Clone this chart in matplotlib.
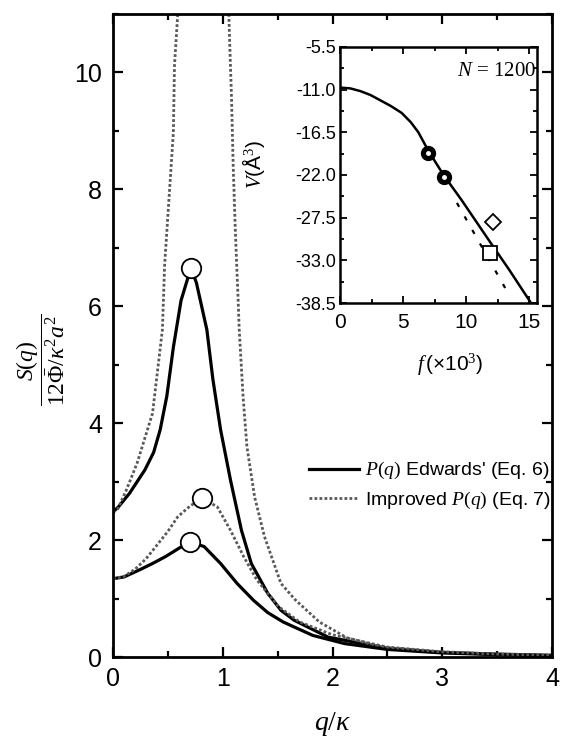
import numpy as np
import matplotlib
matplotlib.use('Agg')
import matplotlib.pyplot as plt
from matplotlib.ticker import MultipleLocator, FormatStrFormatter

plt.rcParams['font.family'] = ['Liberation Sans', 'DejaVu Sans']
plt.rcParams['mathtext.fontset'] = 'custom'
plt.rcParams['mathtext.rm'] = 'Liberation Serif'
plt.rcParams['mathtext.it'] = 'Liberation Serif:italic'
plt.rcParams['mathtext.bf'] = 'Liberation Serif:bold'

# main panel, values
q_ed_hi = [0, 0.05, 0.15, 0.29, 0.37, 0.43, 0.49, 0.55, 0.62, 0.71,
           0.76, 0.855, 0.91, 0.98, 1.07, 1.17, 1.26, 1.41, 1.53, 1.65,
           1.96, 2.5, 3.0, 3.5, 4.0]
s_ed_hi = [2.48, 2.57, 2.8, 3.2, 3.5, 3.89, 4.46, 5.3, 6.1, 6.66,
           6.4, 5.6, 4.75, 3.89, 3.03, 2.17, 1.6, 1.09, 0.8, 0.63,
           0.34, 0.15, 0.08, 0.05, 0.03]

q_im_hi = [0, 0.04, 0.12, 0.22, 0.36, 0.45, 0.47, 0.51, 0.55, 0.56, 0.59, 0.61,
           1.04, 1.06, 1.08, 1.095, 1.115, 1.14, 1.15, 1.185, 1.22, 1.29,
           1.38, 1.53, 1.66, 1.88, 2.13, 2.45, 3.0, 3.5, 4.0]
s_im_hi = [2.48, 2.52, 2.85, 3.32, 4.17, 5.6, 6.7, 7.84, 8.98, 10.12, 11.0, 12.0,
           12.0, 10.69, 9.55, 8.4, 7.26, 6.11, 5.6, 4.46, 3.6, 2.74,
           2.06, 1.26, 0.98, 0.6, 0.33, 0.17, 0.08, 0.05, 0.03]

q_ed_lo = [0, 0.1, 0.24, 0.36, 0.48, 0.6, 0.7, 0.83, 0.98, 1.13,
           1.28, 1.41, 1.55, 1.82, 2.11, 2.5, 3.0, 3.5, 4.0]
s_ed_lo = [1.34, 1.37, 1.49, 1.6, 1.72, 1.86, 1.97, 1.89, 1.6, 1.26,
           0.97, 0.76, 0.6, 0.37, 0.23, 0.13, 0.07, 0.04, 0.02]

q_im_lo = [0, 0.1, 0.2, 0.3, 0.39, 0.5, 0.59, 0.7, 0.81, 0.95,
           1.07, 1.19, 1.31, 1.51, 1.7, 2.0, 2.5, 3.0, 3.5, 4.0]
s_im_lo = [1.34, 1.38, 1.5, 1.68, 1.89, 2.15, 2.4, 2.58, 2.72, 2.57,
           2.17, 1.72, 1.32, 0.86, 0.6, 0.38, 0.17, 0.09, 0.05, 0.03]

q_peak = [0.71, 0.81, 0.70]
s_peak = [6.66, 2.72, 1.97]

# inset
f_fit = [0, 0.8, 1.6, 2.4, 3.2, 4.0, 4.87, 5.6, 6.2, 7.0, 8.2, 9.66, 11.79, 13.4, 15.24]
v_fit = [-10.75, -10.85, -11.2, -11.7, -12.4, -13.1, -14.0, -15.2, -16.5, -18.9, -22.0,
         -25.3, -30.4, -34.2, -38.75]
f_dash = [9.26, 13.1]
v_dash = [-25.6, -36.6]
f_filled = [7.0, 8.2]
v_filled = [-19.2, -22.3]
f_diamond = [12.1]
v_diamond = [-28.05]
f_square = [11.9]
v_square = [-32.05]
v_ticks = [-5.5, -11.0, -16.5, -22.0, -27.5, -33.0, -38.5]

fig = plt.figure(figsize=(5.64, 7.43), dpi=100)
ax = fig.add_axes([0.2004, 0.1157, 0.7783, 0.8655])

dot = (0, (1, 0.8))
l1, = ax.plot(q_ed_hi, s_ed_hi, color='k', lw=2.3, label=r"$P(q)$ Edwards' (Eq. 6)")
l2, = ax.plot(q_im_hi, s_im_hi, color='0.35', lw=2.0, ls=dot, label=r"Improved $P(q)$ (Eq. 7)")
ax.plot(q_ed_lo, s_ed_lo, color='k', lw=2.3)
ax.plot(q_im_lo, s_im_lo, color='0.35', lw=2.0, ls=dot)
ax.plot(q_peak, s_peak, 'o', ms=14, mfc='white', mec='k', mew=1.3, zorder=5)

ax.set_xlim(0, 4)
ax.set_ylim(0, 11)
ax.xaxis.set_major_locator(MultipleLocator(1))
ax.xaxis.set_minor_locator(MultipleLocator(0.5))
ax.yaxis.set_major_locator(MultipleLocator(2))
ax.yaxis.set_minor_locator(MultipleLocator(1))
ax.tick_params(which='both', direction='in', top=True, right=True, width=1.6, labelsize=18)
ax.tick_params(which='major', length=7)
ax.tick_params(which='minor', length=4)
ax.tick_params(axis='x', pad=7)
ax.tick_params(axis='y', pad=8)
for s in ax.spines.values():
    s.set_linewidth(2)

ax.set_xlabel(r'$q/\kappa$', fontsize=20)
ax.xaxis.set_label_coords(0.5, -0.083)
ax.set_ylabel(r'$\dfrac{S(q)}{12\bar{\Phi}/\kappa^2 a^2}$', fontsize=17)
ax.yaxis.set_label_coords(-0.105, 0.462)

ax.legend(handles=[l1, l2], loc='upper right', bbox_to_anchor=(0.998, 0.306),
          frameon=False, fontsize=14, handlelength=2.6, handletextpad=0.3,
          labelspacing=0.45, borderaxespad=0, borderpad=0)

# inset
ax_in = fig.add_axes([0.603, 0.592, 0.349, 0.345])
ax_in.plot(f_fit, v_fit, color='k', lw=1.8)
ax_in.plot(f_dash, v_dash, color='k', lw=1.6, ls=(0, (2, 5)))
ax_in.plot(f_filled, v_filled, 'o', ms=10, color='k', zorder=4)
ax_in.plot(f_filled, v_filled, 'o', ms=2.5, color='white', zorder=5)
ax_in.plot(f_diamond, v_diamond, 'D', ms=8, mfc='white', mec='k', mew=1.3, zorder=4)
ax_in.plot(f_square, v_square, 's', ms=10, mfc='white', mec='k', mew=1.3, zorder=4)

ax_in.set_xlim(0, 15.6)
ax_in.set_ylim(-38.5, -5.5)
ax_in.set_xticks([0, 5, 10, 15])
ax_in.xaxis.set_minor_locator(MultipleLocator(2.5))
ax_in.set_yticks(v_ticks)
ax_in.yaxis.set_minor_locator(MultipleLocator(2.75))
ax_in.yaxis.set_major_formatter(FormatStrFormatter('%.1f'))
ax_in.tick_params(which='both', direction='in', top=True, right=True, width=1.3)
ax_in.tick_params(which='major', length=5)
ax_in.tick_params(which='minor', length=3)
ax_in.tick_params(axis='x', labelsize=15, pad=7)
ax_in.tick_params(axis='y', labelsize=13, pad=3)
for s in ax_in.spines.values():
    s.set_linewidth(1.8)

ax_in.text(0.995, 0.905, r'$N$ = 1200', transform=ax_in.transAxes, ha='right', va='center',
           fontsize=15, family='Liberation Serif')
ax_in.set_xlabel(r'$f\,$(×10$^3$)', fontsize=15)
ax_in.xaxis.set_label_coords(0.56, -0.19)
ax_in.set_ylabel(r'$V$(Å$^3$)', fontsize=15)
ax_in.yaxis.set_label_coords(-0.37, 0.54)

fig.savefig('out.png', dpi=100)
